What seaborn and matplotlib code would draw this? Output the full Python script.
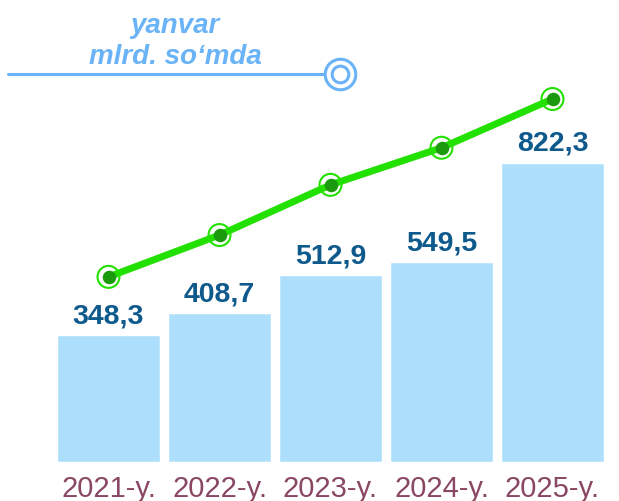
import matplotlib
matplotlib.use("Agg")
import matplotlib.pyplot as plt
from matplotlib.lines import Line2D
import seaborn as sns
import pandas as pd

years = ["2021-y.", "2022-y.", "2023-y.", "2024-y.", "2025-y."]
values = [348.3, 408.7, 512.9, 549.5, 822.3]
value_labels = ["348,3", "408,7", "512,9", "549,5", "822,3"]
trend = [509, 624, 762, 864, 998]
title_lines = ["yanvar", "mlrd. so\u2018mda"]

BAR = "#addffc"
LABEL = "#0f5a8c"
TICK = "#8a4763"
TITLE = "#6ab3f7"
GREEN = "#22e000"
DARK_GREEN = "#1a9a0c"

sns.set_theme(style="white")
plt.rcParams["font.family"] = ["Liberation Sans", "DejaVu Sans"]

df = pd.DataFrame({"year": years, "value": values, "trend": trend})

fig = plt.figure(figsize=(6.19, 5.02), dpi=100)
ax = fig.add_axes([53 / 619, 39 / 502, 555 / 619, 423 / 502])

sns.barplot(data=df, x="year", y="value", color=BAR, saturation=1,
            width=0.93, ax=ax)
ax.set_ylim(0, 1163)
ax.set_xlim(-0.5, 4.5)

for i, (v, lab) in enumerate(zip(values, value_labels)):
    ax.annotate(lab, (i, v), xytext=(0, 5), textcoords="offset points",
                ha="center", va="bottom", fontsize=20.5, fontweight="bold",
                color=LABEL)

# trend line with ringed markers
sns.lineplot(data=df, x="year", y="trend", color=GREEN, linewidth=5,
             ax=ax, sort=False)
ax.scatter(range(len(trend)), trend, s=250, facecolor="none",
           edgecolor=GREEN, linewidth=1.5, zorder=5)
ax.scatter(range(len(trend)), trend, s=95, color=DARK_GREEN, zorder=6,
           linewidth=0)

for s in ax.spines.values():
    s.set_visible(False)
ax.set_yticks([])
ax.set_xlabel("")
ax.set_ylabel("")
ax.tick_params(axis="x", length=0, pad=9, labelsize=21, labelcolor=TICK)

# heading with underline and ring
fig.text(175 / 619, 1 - 33 / 502, title_lines[0], ha="center", va="baseline",
         fontsize=20, fontweight="bold", fontstyle="italic", color=TITLE)
fig.text(175 / 619, 1 - 64 / 502, title_lines[1], ha="center", va="baseline",
         fontsize=20, fontweight="bold", fontstyle="italic", color=TITLE)
y_line = 1 - 75 / 502
fig.add_artist(Line2D([8 / 619, 325 / 619], [y_line, y_line],
                      color=TITLE, linewidth=2.2))
fig.add_artist(Line2D([340 / 619], [y_line], marker="o", markersize=22,
                      markerfacecolor="white", markeredgecolor=TITLE,
                      markeredgewidth=2.2))
fig.add_artist(Line2D([340 / 619], [y_line], marker="o", markersize=12,
                      markerfacecolor="white", markeredgecolor=TITLE,
                      markeredgewidth=2.2))

fig.savefig("out.png", dpi=100)
